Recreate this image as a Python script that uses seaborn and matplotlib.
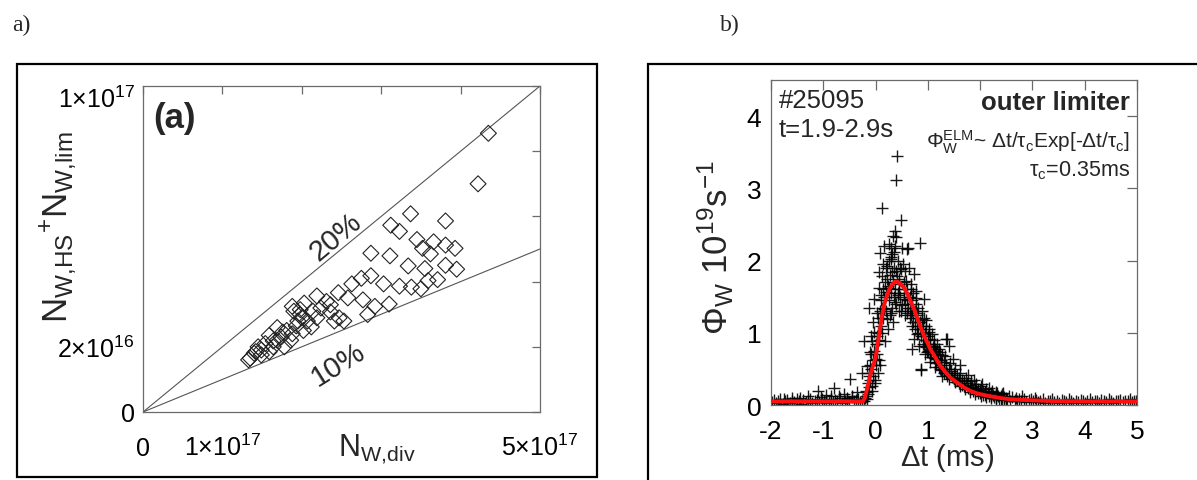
import matplotlib
matplotlib.use("Agg")
import matplotlib.pyplot as plt
import seaborn as sns
import pandas as pd
from matplotlib.patches import Rectangle

# ---------------- panel (a) data ----------------
# N_W,div in units of 1e17, N_W,HS + N_W,lim in units of 1e16
n_div = [4.35, 4.22, 3.37, 3.81, 3.12, 3.23, 3.45, 3.66, 3.81, 3.93,
         3.52, 3.62, 2.87, 3.11, 3.34, 3.55, 3.81, 3.95, 2.75, 2.87,
         3.03, 3.23, 3.38, 3.50, 3.59, 3.71, 2.63, 2.46, 2.58, 2.77,
         2.92, 3.10, 2.83, 2.19, 2.31, 2.36, 2.47, 2.53, 2.41, 1.88,
         1.98, 2.03, 2.14, 2.00, 2.07, 2.19, 2.12, 1.93, 1.69, 1.81,
         1.74, 1.86, 1.59, 1.54, 1.64, 1.78, 1.45, 1.40, 1.35, 1.49,
         1.59, 1.90, 1.98, 2.24, 2.36, 1.69, 1.76, 1.88, 2.02, 1.33,
         1.49, 1.42, 1.64, 1.95]
n_hs_lim = [8.55, 7.00, 6.08, 5.86, 5.73, 5.54, 5.29, 5.22, 5.12, 5.02,
            5.02, 4.85, 4.87, 4.79, 4.48, 4.40, 4.50, 4.38, 4.10, 4.18,
            3.93, 3.86, 3.83, 3.78, 4.03, 4.06, 3.93, 3.66, 3.50, 3.44,
            3.24, 3.31, 2.99, 3.56, 3.39, 3.07, 2.89, 2.79, 2.79, 3.24,
            3.14, 3.34, 3.09, 2.89, 2.79, 2.89, 2.61, 2.64, 2.59, 2.50,
            2.30, 2.20, 2.35, 2.10, 2.00, 2.00, 2.00, 1.80, 1.65, 1.75,
            1.85, 3.09, 2.99, 3.19, 3.29, 2.20, 2.45, 2.40, 2.50, 1.60,
            1.90, 1.85, 2.18, 2.79]
ratio_values = [0.2, 0.1]
ratio_labels = ["20%", "10%"]
a_xticks = [0, 1e17, 2e17, 3e17, 4e17, 5e17]
a_xticklabels = ["0", r"$1{\times}10^{17}$", "", "", "", r"$5{\times}10^{17}$"]
a_yticks = [0, 2e16, 4e16, 6e16, 8e16, 1e17]
a_yticklabels = ["0", r"$2{\times}10^{16}$", "", "", "", r"$1{\times}10^{17}$"]

# ---------------- panel (b) data ----------------
# (dt [ms], flux [1e19/s]) pairs
peak_pts = [(0.41, 3.45), (0.40, 3.12), (0.13, 2.73), (0.49, 2.56), (0.85, 2.25), (0.37, 2.41),
            (0.34, 2.34), (0.39, 2.33), (0.25, 2.23), (0.16, 2.20), (0.29, 2.18), (0.08, 2.11),
            (0.31, 2.09), (0.60, 2.16), (0.50, 2.18), (0.62, 2.18), (0.29, 2.02), (0.22, 1.93),
            (0.06, 1.84), (0.12, 1.79), (0.31, 1.84), (0.48, 1.88), (0.57, 1.86), (0.73, 1.81),
            (0.41, 1.79), (0.67, 1.67), (0.77, 1.58), (-0.03, 1.47), (-0.13, 1.35), (0.92, 1.47),
            (0.19, 1.56), (0.11, 1.52), (0.02, 1.28), (0.16, 1.33), (0.29, 1.28), (0.22, 1.19),
            (0.37, 1.42), (0.43, 1.52), (0.54, 1.47), (0.50, 1.38), (0.60, 1.28), (0.67, 1.24),
            (0.80, 1.28), (0.89, 1.19), (0.96, 1.10), (0.70, 1.10), (0.80, 0.98), (0.70, 0.77),
            (1.02, 1.01), (1.05, 0.91), (-0.03, 1.01), (-0.22, 0.89), (-0.06, 0.89), (0.02, 0.84),
            (-0.10, 0.73), (0.00, 0.64), (-0.17, 0.54), (0.09, 0.56), (-0.26, 0.45), (-0.13, 0.40),
            (-0.07, 0.27), (-0.17, 0.18), (-0.49, 0.36), (0.86, 0.50), (1.18, 0.64), (1.24, 0.73),
            (1.37, 0.91), (1.12, 0.82), (1.24, 0.50), (1.37, 0.45), (1.50, 0.36), (0.92, 0.82),
            (0.99, 0.73), (1.05, 0.66), (1.35, 0.92), (1.41, 0.82), (1.14, 0.78), (0.87, 0.48),
            (1.28, 0.69), (1.48, 0.64), (1.62, 0.55), (1.76, 0.41), (1.89, 0.34), (2.03, 0.29),
            (2.16, 0.23), (2.30, 0.18), (2.44, 0.16), (-0.80, 0.23), (-1.10, 0.19)]
rise_pts = [(-0.20, 0.10), (-0.18, 0.20), (-0.15, 0.15), (-0.15, 0.30), (-0.12, 0.25), (-0.12, 0.45),
            (-0.10, 0.35), (-0.10, 0.55), (-0.08, 0.50), (-0.08, 0.70), (-0.05, 0.40), (-0.05, 0.62),
            (-0.03, 0.75), (0.00, 0.55), (0.00, 0.85), (0.02, 0.95), (0.03, 0.70), (0.05, 1.00),
            (0.05, 1.20), (0.07, 0.90), (0.08, 1.30), (0.10, 1.10), (0.10, 1.45), (0.12, 1.00),
            (0.13, 1.35), (0.15, 1.60), (0.15, 1.20), (0.17, 1.50), (0.18, 1.70), (0.20, 1.30),
            (0.20, 1.90), (0.23, 1.65), (0.25, 1.45), (0.25, 2.00), (0.27, 1.80), (0.28, 1.25),
            (0.30, 1.55), (0.30, 2.05), (0.32, 1.35), (0.33, 1.70), (0.35, 1.90), (0.35, 1.50),
            (0.38, 1.60), (0.38, 2.20), (0.40, 1.40), (0.40, 1.85), (0.42, 1.55), (0.42, 2.00),
            (0.45, 1.30), (0.46, 1.90), (-0.22, 0.06), (-0.19, 0.12), (-0.16, 0.08), (-0.06, 0.20),
            (-0.02, 0.35), (0.04, 0.45), (-0.09, 0.95), (-0.04, 1.15), (0.06, 1.62), (0.14, 1.95),
            (0.21, 1.75), (0.26, 1.62), (0.33, 1.15), (0.44, 1.68), (0.52, 1.95), (0.58, 1.72),
            (0.64, 1.90), (0.24, 1.05), (0.18, 0.88), (-0.01, 0.30), (0.07, 0.62), (0.36, 2.12)]
decay_pts = [(0.45, 1.60), (0.45, 1.75), (0.47, 1.50), (0.48, 1.30), (0.55, 1.55), (0.55, 1.70),
             (0.56, 1.40), (0.57, 1.25), (0.60, 1.60), (0.61, 1.45), (0.62, 1.35), (0.65, 1.50),
             (0.65, 1.35), (0.66, 1.20), (0.70, 1.45), (0.70, 1.30), (0.71, 1.15), (0.72, 1.55),
             (0.75, 1.30), (0.75, 1.20), (0.76, 1.05), (0.77, 1.40), (0.80, 1.25), (0.80, 1.10),
             (0.81, 1.00), (0.82, 1.35), (0.85, 1.15), (0.85, 1.05), (0.86, 0.95), (0.90, 1.10),
             (0.90, 0.95), (0.91, 0.85), (0.92, 1.20), (0.95, 1.00), (0.95, 0.90), (0.96, 0.80),
             (1.00, 0.95), (1.00, 0.85), (1.01, 0.75), (1.02, 1.05), (1.05, 0.85), (1.05, 0.75),
             (1.06, 0.70), (1.10, 0.80), (1.10, 0.70), (1.11, 0.65), (1.12, 0.90), (1.15, 0.75),
             (1.15, 0.65), (1.16, 0.58), (1.20, 0.70), (1.20, 0.60), (1.21, 0.52), (1.22, 0.78),
             (1.25, 0.62), (1.25, 0.55), (1.26, 0.48), (1.30, 0.60), (1.30, 0.50), (1.31, 0.44),
             (1.32, 0.68), (1.35, 0.55), (1.35, 0.45), (1.36, 0.40), (1.40, 0.50), (1.40, 0.42),
             (1.41, 0.36), (1.42, 0.58), (1.45, 0.47), (1.46, 0.39), (1.50, 0.45), (1.50, 0.38),
             (1.51, 0.32), (1.52, 0.50), (1.55, 0.41), (1.56, 0.34), (1.60, 0.38), (1.60, 0.30),
             (1.61, 0.26), (1.62, 0.44), (1.65, 0.35), (1.66, 0.28), (1.70, 0.33), (1.70, 0.26),
             (1.71, 0.22), (1.72, 0.38), (1.75, 0.30), (1.76, 0.24), (1.80, 0.28), (1.80, 0.22),
             (1.81, 0.18), (1.82, 0.33), (1.85, 0.25), (1.86, 0.20), (1.90, 0.24), (1.90, 0.19),
             (1.91, 0.15), (1.92, 0.29), (1.95, 0.22), (1.96, 0.17), (2.00, 0.21), (2.00, 0.16),
             (2.01, 0.13), (2.02, 0.26), (2.05, 0.19), (2.06, 0.14), (2.10, 0.18), (2.10, 0.14),
             (2.11, 0.11), (2.12, 0.22), (2.15, 0.16), (2.16, 0.12), (2.20, 0.16), (2.20, 0.12),
             (2.21, 0.10), (2.22, 0.20), (2.25, 0.14), (2.26, 0.11), (2.30, 0.14), (2.30, 0.10),
             (2.31, 0.08), (2.32, 0.17), (2.35, 0.12), (2.36, 0.09), (2.40, 0.12), (2.40, 0.09),
             (2.41, 0.07), (2.42, 0.15), (2.45, 0.11), (2.46, 0.08), (2.50, 0.10), (2.50, 0.08),
             (0.68, 1.60), (0.78, 1.48), (0.88, 1.30), (0.97, 1.18), (1.08, 0.98), (1.18, 0.85),
             (0.74, 0.92), (0.84, 0.82), (0.94, 0.70), (1.04, 0.60), (1.14, 0.52), (1.28, 0.40)]
base_left_pts = [(-1.99, 0.04), (-1.95, 0.07), (-1.91, 0.03), (-1.86, 0.06), (-1.82, 0.08), (-1.78, 0.02),
                 (-1.73, 0.05), (-1.69, 0.07), (-1.64, 0.03), (-1.60, 0.06), (-1.56, 0.04), (-1.51, 0.08),
                 (-1.47, 0.05), (-1.43, 0.02), (-1.38, 0.07), (-1.34, 0.04), (-1.29, 0.06), (-1.25, 0.09),
                 (-1.21, 0.03), (-1.16, 0.05), (-1.12, 0.07), (-1.08, 0.04), (-1.03, 0.08), (-0.99, 0.05),
                 (-0.94, 0.03), (-0.90, 0.06), (-0.86, 0.09), (-0.81, 0.04), (-0.77, 0.07), (-0.73, 0.05),
                 (-0.68, 0.10), (-0.64, 0.03), (-0.59, 0.06), (-0.55, 0.08), (-0.51, 0.04), (-0.46, 0.11),
                 (-0.42, 0.05), (-0.38, 0.07), (-0.33, 0.09), (-0.29, 0.04), (-0.26, 0.06),
                 (-1.30, 0.12), (-1.60, 0.10), (-0.95, 0.14), (-0.70, 0.12), (-0.60, 0.15), (-0.45, 0.13),
                 (-0.35, 0.18), (-0.55, 0.10), (-1.75, 0.09), (-1.45, 0.10), (-1.05, 0.11), (-0.85, 0.12)]
base_right_pts = [(2.52, 0.09), (2.57, 0.06), (2.61, 0.11), (2.66, 0.07), (2.70, 0.05), (2.75, 0.09),
                  (2.79, 0.06), (2.84, 0.08), (2.88, 0.04), (2.93, 0.07), (2.97, 0.09), (3.02, 0.05),
                  (3.06, 0.07), (3.11, 0.04), (3.15, 0.06), (3.20, 0.08), (3.24, 0.03), (3.29, 0.06),
                  (3.33, 0.05), (3.38, 0.08), (3.42, 0.04), (3.47, 0.06), (3.51, 0.03), (3.56, 0.07),
                  (3.60, 0.05), (3.65, 0.04), (3.69, 0.08), (3.74, 0.05), (3.78, 0.03), (3.83, 0.06),
                  (3.87, 0.04), (3.92, 0.07), (3.96, 0.05), (4.01, 0.03), (4.05, 0.06), (4.10, 0.08),
                  (4.14, 0.04), (4.19, 0.06), (4.23, 0.05), (4.28, 0.03), (4.32, 0.07), (4.37, 0.05),
                  (4.41, 0.04), (4.46, 0.08), (4.50, 0.05), (4.55, 0.03), (4.59, 0.06), (4.64, 0.05),
                  (4.68, 0.07), (4.73, 0.04), (4.77, 0.06), (4.82, 0.05), (4.86, 0.08), (4.91, 0.04),
                  (4.95, 0.06), (4.99, 0.05), (2.55, 0.13), (2.68, 0.10), (2.80, 0.12), (3.05, 0.10)]
# red fit curve
fit_t = [-2.0, -0.24, -0.20, -0.17, -0.13, -0.10, -0.06, -0.03, 0.00, 0.04, 0.08, 0.12, 0.17,
         0.22, 0.27, 0.31, 0.36, 0.41, 0.47, 0.54, 0.60, 0.67, 0.74, 0.80, 0.86, 0.92, 1.00,
         1.05, 1.15, 1.24, 1.33, 1.43, 1.52, 1.60, 1.70, 1.80, 1.90, 2.00, 2.20, 2.40, 2.57,
         2.80, 3.00, 3.40, 4.00, 5.00]
fit_v = [0.05, 0.05, 0.11, 0.20, 0.32, 0.42, 0.52, 0.58, 0.66, 0.84, 1.03, 1.22, 1.40,
         1.52, 1.61, 1.66, 1.70, 1.71, 1.68, 1.63, 1.55, 1.44, 1.32, 1.20, 1.08, 0.97, 0.85,
         0.77, 0.65, 0.54, 0.46, 0.38, 0.33, 0.29, 0.24, 0.20, 0.17, 0.15, 0.12, 0.095, 0.08,
         0.07, 0.065, 0.055, 0.05, 0.05]
b_xticks = [-2, -1, 0, 1, 2, 3, 4, 5]
b_yticks = [0, 1, 2, 3, 4]

# ---------------- style ----------------
sns.set_theme(style="white")
plt.rcParams["font.family"] = ["Liberation Sans", "DejaVu Sans"]
plt.rcParams["mathtext.fontset"] = "custom"
plt.rcParams["mathtext.rm"] = "Liberation Sans"
plt.rcParams["mathtext.it"] = "Liberation Sans"
plt.rcParams["mathtext.bf"] = "Liberation Sans:bold"
plt.rcParams["mathtext.default"] = "regular"

W, H = 1197, 481
fig = plt.figure(figsize=(W / 100, H / 100), dpi=100)
frame_col = "#6a6a6a"


def px_axes(l, t, r, b):
    return [l / W, 1 - b / H, (r - l) / W, (b - t) / H]


def style_axes(ax, ticklen):
    for sp in ax.spines.values():
        sp.set_color(frame_col)
        sp.set_linewidth(0.9)
        sp.set_visible(True)
    ax.tick_params(direction="in", top=True, right=True, length=ticklen, width=0.9,
                   color=frame_col, labelcolor="black")
    ax.grid(False)


# ---------------- panel (a) ----------------
ax1 = fig.add_axes(px_axes(143, 87, 540, 413))
line_x = [0, 5e17]
for r in ratio_values:
    sns.lineplot(x=line_x, y=[r * v for v in line_x], color="#555555", lw=0.8, ax=ax1)
df_a = pd.DataFrame({"div": [v * 1e17 for v in n_div], "tot": [v * 1e16 for v in n_hs_lim]})
sns.scatterplot(data=df_a, x="div", y="tot", marker="D", s=66, facecolor="none",
                edgecolor="#222222", linewidth=0.8, ax=ax1, zorder=3)
ax1.set_xlim(0, 5e17)
ax1.set_ylim(0, 1e17)
style_axes(ax1, 6)
ax1.set_xticks(a_xticks)
ax1.set_xticklabels(a_xticklabels)
ax1.set_yticks(a_yticks)
ax1.set_yticklabels(a_yticklabels)
ax1.tick_params(axis="x", labelsize=18, pad=31)
ax1.tick_params(axis="y", labelsize=18, pad=6)
for lab in ax1.get_xticklabels():
    lab.set_va("baseline")
ax1.get_yticklabels()[-1].set_va("top")
ax1.set_xlabel("")
ax1.set_ylabel("")
ax1.text(0.59, -0.132, r"$N_{W{,}div}$", transform=ax1.transAxes, ha="center",
         va="baseline", fontsize=22)
ax1.text(-0.213, 0.571, r"$N_{W{,}HS}{}^{+}N_{W{,}lim}$", transform=ax1.transAxes, ha="center",
         va="center", rotation=90, rotation_mode="anchor", fontsize=25)
ax1.text(0.026, 0.874, "(a)", transform=ax1.transAxes, ha="left", va="baseline",
         fontsize=25, fontweight="bold")
ax1.text(2.43e17, 5.4e16, ratio_labels[0], rotation=40, ha="center", va="center", fontsize=21)
ax1.text(2.46e17, 1.47e16, ratio_labels[1], rotation=32, ha="center", va="center", fontsize=21)

# ---------------- panel (b) ----------------
ax2 = fig.add_axes(px_axes(771, 81, 1137, 406))
all_pts = base_left_pts + base_right_pts + decay_pts + rise_pts + peak_pts
df_b = pd.DataFrame(all_pts, columns=["dt", "flux"])
sns.scatterplot(data=df_b, x="dt", y="flux", marker="+", s=68, color="black",
                linewidth=1.0, alpha=0.9, ax=ax2, zorder=2)
sns.lineplot(x=fit_t, y=fit_v, color="#ff1010", lw=2.8, sort=False, estimator=None,
             ax=ax2, zorder=4)
ax2.set_xlim(-2, 5)
ax2.set_ylim(0, 4.5)
style_axes(ax2, 7)
ax2.set_xticks(b_xticks)
ax2.set_xticklabels([str(v) for v in b_xticks])
ax2.set_yticks(b_yticks)
ax2.set_yticklabels([str(v) for v in b_yticks])
ax2.tick_params(axis="x", labelsize=19, pad=10)
ax2.tick_params(axis="y", labelsize=19, pad=7)
ax2.set_xlabel("")
ax2.set_ylabel("")
ax2.text(0.481, -0.185, r"$\Delta$t (ms)", transform=ax2.transAxes, ha="center",
         va="baseline", fontsize=21)
ax2.text(-0.15, 0.489, r"$\Phi_W\ 10^{19}s^{-1}$", transform=ax2.transAxes, ha="center",
         va="center", rotation=90, rotation_mode="anchor", fontsize=25)
ax2.text(0.022, 0.917, "#25095", transform=ax2.transAxes, ha="left", va="baseline", fontsize=18.5)
ax2.text(0.022, 0.828, "t=1.9-2.9s", transform=ax2.transAxes, ha="left", va="baseline", fontsize=18.5)
ax2.text(0.981, 0.911, "outer limiter", transform=ax2.transAxes, ha="right", va="baseline",
         fontsize=18.5, fontweight="bold")
ax2.text(0.981, 0.794, r"$\Phi_W^{ELM}$~ $\Delta$t/$\tau_c$Exp[-$\Delta$t/$\tau_c$]",
         transform=ax2.transAxes, ha="right", va="baseline", fontsize=15)
ax2.text(0.981, 0.705, r"$\tau_c$=0.35ms", transform=ax2.transAxes, ha="right",
         va="baseline", fontsize=15.5)

# ---------------- panel frames and labels ----------------
fig.add_artist(Rectangle((17 / W, 1 - 478 / H), (597 - 17) / W, (478 - 65) / H,
                         transform=fig.transFigure, fill=False, lw=1.6, ec="black"))
fig.add_artist(Rectangle((648 / W, -0.2), 0.5, 1.2 - 65 / H,
                         transform=fig.transFigure, fill=False, lw=1.6, ec="black"))
fig.text(12 / W, 1 - 31 / H, "a)", family=["Liberation Serif", "DejaVu Serif"], fontsize=17,
         va="baseline")
fig.text(720 / W, 1 - 31 / H, "b)", family=["Liberation Serif", "DejaVu Serif"], fontsize=17,
         va="baseline")

fig.savefig("out.png", dpi=100, facecolor="white")
